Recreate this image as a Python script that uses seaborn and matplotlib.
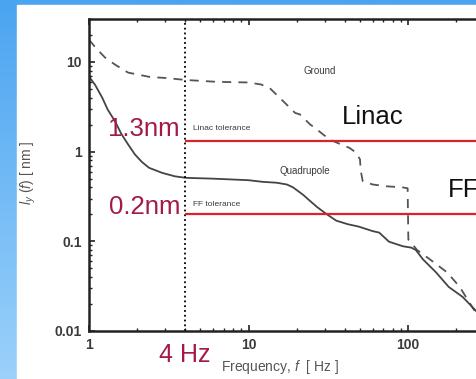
import numpy as np
import pandas as pd
import matplotlib
matplotlib.use("Agg")
import matplotlib.pyplot as plt
import matplotlib.ticker as mticker
import seaborn as sns
from matplotlib.patches import Rectangle
from matplotlib.colors import LinearSegmentedColormap

# Ground motion (dashed)
ground_freq = [1, 1.1, 1.26, 1.46, 1.76, 2.4, 3.1, 4, 6.3, 10, 12, 13.6, 16.9, 19.6, 21, 24.4,
               26, 29.4, 32.5, 35, 43, 47, 50, 50.5, 52, 60, 74, 92, 99.5, 100, 100.5,
               114, 137, 176, 211, 255, 290]
ground_amp = [17.7, 14.4, 11.2, 9.3, 7.6, 6.8, 6.6, 6.3, 6.0, 5.9, 5.6, 5.1, 3.5, 2.7, 2.6, 2.0,
              1.85, 1.55, 1.36, 1.28, 1.1, 0.98, 0.82, 0.62, 0.47, 0.43, 0.41, 0.40, 0.39, 0.2, 0.105,
              0.08, 0.063, 0.045, 0.031, 0.018, 0.013]

# Quadrupole motion (solid)
quad_freq = [1, 1.09, 1.21, 1.31, 1.46, 1.59, 1.76, 1.94, 2.14, 2.38, 2.87, 3.46, 4.06,
             5.9, 7.7, 10, 12.3, 15, 17.4, 19, 22, 25, 27, 31, 35.5, 42, 49, 60, 66, 76,
             93, 105, 112, 124, 150, 180, 220, 265, 300]
quad_amp = [6.86, 5.58, 4.0, 2.94, 2.16, 1.59, 1.2, 0.93, 0.77, 0.66, 0.58, 0.53, 0.51,
            0.50, 0.49, 0.48, 0.46, 0.45, 0.43, 0.40, 0.33, 0.27, 0.24, 0.20, 0.17, 0.155,
            0.146, 0.13, 0.125, 0.099, 0.088, 0.085, 0.08, 0.063, 0.045, 0.031, 0.024, 0.017, 0.013]

# tolerances
tol_names = ["Linac tolerance", "FF tolerance"]
tol_values = [1.3, 0.2]
tol_big = ["1.3nm", "0.2nm"]
feedback_freq = 4

sns.set_style("ticks")
plt.rcParams['font.family'] = ['Liberation Sans', 'DejaVu Sans']
plt.rcParams['mathtext.fontset'] = 'custom'
plt.rcParams['mathtext.rm'] = 'Liberation Sans'
plt.rcParams['mathtext.it'] = 'Liberation Sans:italic'

maroon = "#a3194b"
grey_txt = "#3a3a3a"

fig = plt.figure(figsize=(4.76, 3.79), dpi=100)

# blue frame behind the white slide panel
bg = fig.add_axes([0, 0, 1, 1], zorder=-10)
cmap = LinearSegmentedColormap.from_list("bl", ["#4ba4f0", "#9bd1fb"])
bg.imshow(np.linspace(0, 1, 200).reshape(-1, 1), aspect='auto', cmap=cmap,
          extent=[0, 1, 0, 1])
bg.add_patch(Rectangle((17 / 476, 0), 1, 374 / 379, color='white'))
bg.set_xlim(0, 1)
bg.set_ylim(0, 1)
bg.axis('off')

ax = fig.add_axes([89 / 476, 48 / 379, (567.5 - 89) / 476, 312 / 379])
ax.patch.set_alpha(0)

df_g = pd.DataFrame({"f": ground_freq, "a": ground_amp})
df_q = pd.DataFrame({"f": quad_freq, "a": quad_amp})
sns.lineplot(data=df_g, x="f", y="a", ax=ax, color="#555555", lw=1.3,
             linestyle=(0, (5, 4)), sort=False, estimator=None)
sns.lineplot(data=df_q, x="f", y="a", ax=ax, color="#444444", lw=1.3,
             sort=False, estimator=None)

ax.axvline(feedback_freq, color="k", ls=":", lw=1.3)
ax.hlines(tol_values, feedback_freq, 1000, color="#d8232a", lw=1.6)

ax.set_xscale('log')
ax.set_yscale('log')
ax.set_xlim(1, 1000)
ax.set_ylim(0.01, 30.1)

ax.set_xticks([1, 10, 100])
ax.set_xticklabels(["1", "10", "100"])
ax.set_yticks([0.01, 0.1, 1, 10])
ax.set_yticklabels(["0.01", "0.1", "1", "10"])
ax.xaxis.set_minor_locator(mticker.LogLocator(base=10, subs=range(2, 10)))
ax.yaxis.set_minor_locator(mticker.LogLocator(base=10, subs=range(2, 10)))
ax.xaxis.set_minor_formatter(mticker.NullFormatter())
ax.yaxis.set_minor_formatter(mticker.NullFormatter())
ax.tick_params(which='both', direction='in', top=True, right=False,
               colors="#222222", labelcolor=grey_txt)
ax.tick_params(which='major', length=4, width=1.2, labelsize=10, pad=5)
ax.tick_params(which='minor', length=2.5, width=1)
for lab in ax.get_xticklabels() + ax.get_yticklabels():
    lab.set_fontweight('bold')
for s in ax.spines.values():
    s.set_linewidth(1.8)
    s.set_color("#222222")

ax.set_xlabel("")
ax.set_ylabel("")
fig.text(280 / 476, 1 - 367 / 379, "Frequency, $f$  [ Hz ]", ha='center', va='center',
         fontsize=10, color="#555555")
fig.text(28 / 476, 1 - 173 / 379, "$l_y$ ($f$) [ nm ]", ha='center', va='center',
         rotation=90, fontsize=10, color="#555555")

# curve / tolerance labels
ax.text(28, 8.0, "Ground", fontsize=7, color=grey_txt, ha='center', va='center')
ax.text(22.6, 0.61, "Quadrupole", fontsize=7, color=grey_txt, ha='center', va='center')
ax.text(4.5, 1.8, tol_names[0], fontsize=6, color=grey_txt, ha='left', va='center')
ax.text(4.5, 0.257, tol_names[1], fontsize=6, color=grey_txt, ha='left', va='center')

ax.text(3.72, 1.8, tol_big[0], fontsize=18.5, color=maroon, ha='right', va='center')
ax.text(3.72, 0.244, tol_big[1], fontsize=18.5, color=maroon, ha='right', va='center')
ax.text(60.3, 2.46, "Linac", fontsize=18.5, color="#111111", ha='center', va='center')
ax.text(178, 0.377, "FF", fontsize=18.5, color="#111111", ha='left', va='center')
ax.text(feedback_freq, -0.077, "4 Hz", fontsize=18, color=maroon, ha='center', va='center',
        transform=ax.get_xaxis_transform(), clip_on=False)

fig.savefig("out.png", dpi=100)
